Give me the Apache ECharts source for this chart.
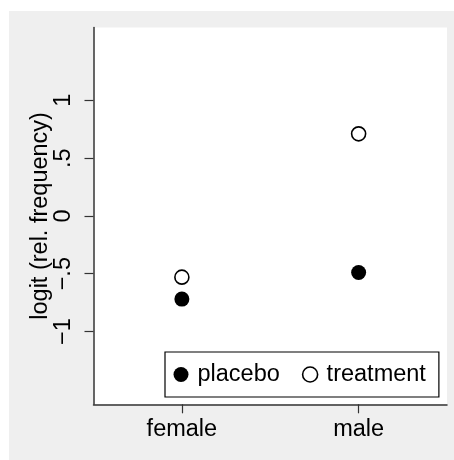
<!DOCTYPE html>
<html><head><meta charset="utf-8">
<script src="https://cdn.jsdelivr.net/npm/echarts@6/dist/echarts.min.js"></script>
<style>html,body{margin:0;padding:0;background:#fff}#c{width:454px;height:460px}</style>
</head><body><div id="c"></div>
<script>
const categories = ['female', 'male'];
const placebo = [-0.72, -0.49];
const treatment = [-0.53, 0.71];
const yTickValues = [1, 0.5, 0, -0.5, -1];
const yTickLabels = ['1', '.5', '0', '\u2212.5', '\u22121'];
const yTitle = 'logit (rel. frequency)';

const FONT = '"Liberation Sans", Arial, Helvetica, sans-serif';
const chart = echarts.init(document.getElementById('c'), null, {renderer: 'canvas'});
chart.setOption({
  animation: false,
  backgroundColor: '#ffffff',
  graphic: [{type: 'rect', z: -100, silent: true, shape: {x: 9, y: 11, width: 445, height: 449}, style: {fill: '#efefef'}}],
  grid: {left: 93.5, right: 7, top: 27.5, bottom: 55.7, show: true, backgroundColor: '#ffffff', borderWidth: 0},
  xAxis: {
    type: 'category', data: categories, boundaryGap: true,
    axisLine: {show: true, onZero: false, lineStyle: {color: '#333', width: 1.5}},
    axisTick: {show: true, alignWithLabel: true, length: 9, lineStyle: {color: '#333', width: 1.2}},
    axisLabel: {color: '#000', fontSize: 23.5, fontFamily: FONT, margin: 13},
    splitLine: {show: false}
  },
  yAxis: {
    type: 'value', min: -1.63, max: 1.63,
    name: yTitle, nameLocation: 'middle', nameRotate: 90, nameGap: 41, nameMoveOverlap: false,
    nameTextStyle: {color: '#000', fontSize: 23.5, fontFamily: FONT},
    axisLine: {show: true, onZero: false, lineStyle: {color: '#333', width: 1.5}},
    axisTick: {show: true, length: 9, customValues: yTickValues, lineStyle: {color: '#333', width: 1.2}},
    axisLabel: {
      color: '#000', fontSize: 23.5, fontFamily: FONT, rotate: 90, margin: 18,
      customValues: yTickValues,
      formatter: v => { const i = yTickValues.findIndex(t => Math.abs(t - v) < 1e-9); return i >= 0 ? yTickLabels[i] : ''; }
    },
    splitLine: {show: false}
  },
  legend: {
    left: 165, top: 352, orient: 'horizontal',
    backgroundColor: '#fff', borderColor: '#000', borderWidth: 1.2, borderRadius: 0,
    padding: [10, 13, 10, 8.5], itemGap: 22, itemWidth: 23, itemHeight: 15,
    textStyle: {color: '#000', fontSize: 23.5, fontFamily: FONT, lineHeight: 25},
    data: [
      {name: 'placebo', icon: 'circle', itemStyle: {color: '#000', borderWidth: 0}},
      {name: 'treatment', icon: 'circle', itemStyle: {color: '#fff', borderColor: '#000', borderWidth: 1.6}}
    ]
  },
  series: [
    {name: 'placebo', type: 'scatter', symbol: 'circle', symbolSize: 15,
     itemStyle: {color: '#000', opacity: 1}, data: placebo.map((v, i) => [categories[i], v])},
    {name: 'treatment', type: 'scatter', symbol: 'circle', symbolSize: 14,
     itemStyle: {color: '#fff', borderColor: '#000', borderWidth: 1.6, opacity: 1}, data: treatment.map((v, i) => [categories[i], v])}
  ]
});
</script></body></html>
